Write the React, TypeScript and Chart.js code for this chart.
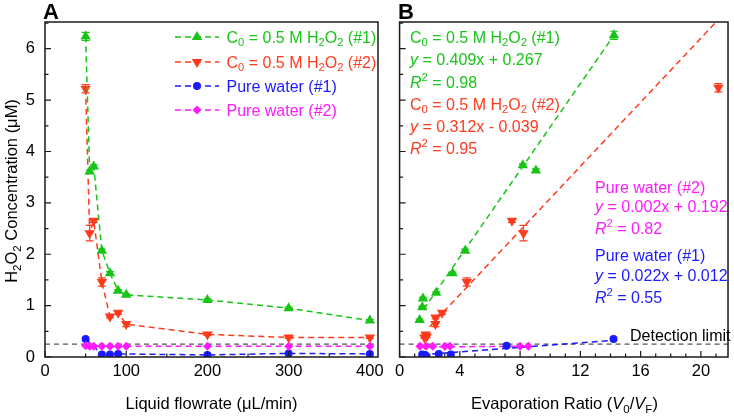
import React, { useEffect, useRef } from 'react';
import { Chart, registerables } from 'chart.js';
Chart.register(...registerables);

const FONT = '"Liberation Sans", Arial, Helvetica, sans-serif';
const GREEN = '#17c417';
const RED = '#ff3b1d';
const BLUE = '#1a1aff';
const MAGENTA = '#ff1aff';
const GRAY = '#555555';

// ---------- Panel A : concentration vs liquid flowrate ----------
const flowA = [50, 55, 60, 70, 80, 90, 100, 200, 300, 400];
const greenA = [6.24, 3.61, 3.71, 2.07, 1.63, 1.29, 1.21, 1.11, 0.95, 0.71];
const greenErrA = [0.08, 0.03, 0.03, 0.03, 0.03, 0.02, 0.02, 0.02, 0.02, 0.02];
const redA = [5.22, 2.41, 2.65, 1.46, 0.79, 0.86, 0.64, 0.44, 0.38, 0.38];
const redErrA = [0.08, 0.15, 0.03, 0.08, 0.03, 0.03, 0.05, 0.02, 0.02, 0.02];
const blueFlowA = [50, 70, 80, 90, 200, 300, 400];
const blueA = [0.35, 0.05, 0.05, 0.06, 0.04, 0.07, 0.06];
const pinkA = [0.22, 0.21, 0.21, 0.21, 0.21, 0.21, 0.21, 0.21, 0.21, 0.21];

// ---------- Panel B : concentration vs evaporation ratio ----------
const greenRatioB = [1.33, 1.51, 1.55, 2.43, 3.52, 4.35, 8.18, 9.05, 14.23];
const greenB = [0.72, 0.97, 1.14, 1.25, 1.63, 2.07, 3.73, 3.63, 6.26];
const greenErrB = [0.02, 0.02, 0.02, 0.02, 0.02, 0.03, 0.03, 0.03, 0.08];
const redRatioB = [1.65, 1.73, 1.8, 2.38, 2.38, 2.82, 4.46, 7.46, 8.22, 21.16];
const redB = [0.38, 0.44, 0.4, 0.77, 0.64, 0.86, 1.46, 2.65, 2.41, 5.24];
const redErrB = [0.02, 0.03, 0.02, 0.03, 0.05, 0.03, 0.08, 0.03, 0.15, 0.08];
const blueRatioB = [1.5, 1.7, 2.6, 3.4, 7.1, 14.2];
const blueB = [0.05, 0.04, 0.06, 0.05, 0.22, 0.35];
const pinkRatioB = [1.35, 1.75, 2.2, 3.0, 3.35, 8.0, 8.55];
const pinkB = [0.21, 0.21, 0.21, 0.21, 0.21, 0.21, 0.21];

// linear fits (end points)
const fitGreenX = [1.6, 14.2];
const fitGreenY = [0.93, 6.25];
const fitRedX = [2.0, 22];
const fitRedY = [0.59, 6.83];
const fitPinkX = [1.3, 8.6];
const fitPinkY = [0.195, 0.209];
const fitBlueX = [1.5, 14.2];
const fitBlueY = [0.045, 0.324];

const detectionLimit = 0.25;

// ticks
const yMajor = [0, 1, 2, 3, 4, 5, 6];
const yMinor = [0.5, 1.5, 2.5, 3.5, 4.5, 5.5, 6.5];
const xMajorA = [0, 100, 200, 300, 400];
const xMinorA = [50, 150, 250, 350];
const xMajorB = [0, 4, 8, 12, 16, 20];
const xMinorB = [1, 2, 3, 5, 6, 7, 9, 10, 11, 13, 14, 15, 17, 18, 19, 21];

// texts
const legendLabels = [
  'C_{0} = 0.5 M H_{2}O_{2} (#1)',
  'C_{0} = 0.5 M H_{2}O_{2} (#2)',
  'Pure water (#1)',
  'Pure water (#2)',
];
const greenNote = ['C_{0} = 0.5 M H_{2}O_{2} (#1)', '*y* = 0.409x + 0.267', '*R*^{2} = 0.98'];
const redNote = ['C_{0} = 0.5 M H_{2}O_{2} (#2)', '*y* = 0.312x - 0.039', '*R*^{2} = 0.95'];
const pinkNote = ['Pure water (#2)', '*y* = 0.002x + 0.192', '*R*^{2} = 0.82'];
const blueNote = ['Pure water (#1)', '*y* = 0.022x + 0.012', '*R*^{2} = 0.55'];
const yTitle = 'H_{2}O_{2} Concentration (μM)';
const xTitleA = 'Liquid flowrate (μL/min)';
const xTitleB = 'Evaporation Ratio (*V*_{0}/*V*_{F})';
const detectionText = 'Detection limit';

type Seg = { t: string; mode: 'n' | 'sub' | 'sup'; it: boolean };
function parseRich(s: string): Seg[] {
  const segs: Seg[] = [];
  let i = 0;
  let it = false;
  let buf = '';
  const flush = () => {
    if (buf) {
      segs.push({ t: buf, mode: 'n', it });
      buf = '';
    }
  };
  while (i < s.length) {
    const c = s[i];
    if ((c === '_' || c === '^') && s[i + 1] === '{') {
      flush();
      const end = s.indexOf('}', i);
      segs.push({ t: s.slice(i + 2, end), mode: c === '_' ? 'sub' : 'sup', it });
      i = end + 1;
      continue;
    }
    if (c === '*') {
      flush();
      it = !it;
      i++;
      continue;
    }
    buf += c;
    i++;
  }
  flush();
  return segs;
}

function drawRich(
  ctx: CanvasRenderingContext2D,
  s: string,
  x: number,
  cy: number,
  size: number,
  color: string,
  align: 'left' | 'center' = 'left',
  bold = false
) {
  const segs = parseRich(s);
  const fontFor = (seg: Seg) =>
    `${seg.it ? 'italic ' : ''}${bold ? 'bold ' : ''}${seg.mode === 'n' ? size : size * 0.7}px ${FONT}`;
  let total = 0;
  for (const seg of segs) {
    ctx.font = fontFor(seg);
    total += ctx.measureText(seg.t).width;
  }
  let cx = align === 'center' ? x - total / 2 : x;
  const base = cy + size * 0.36;
  ctx.fillStyle = color;
  ctx.textBaseline = 'alphabetic';
  ctx.textAlign = 'left';
  for (const seg of segs) {
    ctx.font = fontFor(seg);
    const dy = seg.mode === 'sub' ? size * 0.22 : seg.mode === 'sup' ? -size * 0.4 : 0;
    ctx.fillText(seg.t, cx, base + dy);
    cx += ctx.measureText(seg.t).width;
  }
}

function drawMarker(ctx: CanvasRenderingContext2D, style: string, x: number, y: number, r: number, color: string) {
  ctx.save();
  ctx.fillStyle = color;
  ctx.beginPath();
  if (style === 'up' || style === 'down') {
    const s = style === 'up' ? 1 : -1;
    for (let k = 0; k < 3; k++) {
      const a = (k * 2 * Math.PI) / 3;
      const px = x + Math.sin(a) * r;
      const py = y - s * Math.cos(a) * r;
      if (k === 0) ctx.moveTo(px, py);
      else ctx.lineTo(px, py);
    }
  } else if (style === 'circle') {
    ctx.arc(x, y, r, 0, Math.PI * 2);
  } else {
    ctx.moveTo(x, y - r);
    ctx.lineTo(x + r, y);
    ctx.lineTo(x, y + r);
    ctx.lineTo(x - r, y);
  }
  ctx.closePath();
  ctx.fill();
  ctx.restore();
}

type DecorCfg = {
  xMajor: number[];
  xMinor: number[];
  draw: (ctx: CanvasRenderingContext2D, chart: any) => void;
};

function makeDecor(cfg: DecorCfg) {
  return {
    id: 'decor',
    beforeDatasetsDraw(chart: any) {
      const { ctx, chartArea, scales } = chart;
      const y = scales.y.getPixelForValue(detectionLimit);
      ctx.save();
      ctx.strokeStyle = GRAY;
      ctx.lineWidth = 1.3;
      ctx.setLineDash([5, 4]);
      ctx.beginPath();
      ctx.moveTo(chartArea.left, y);
      ctx.lineTo(chartArea.right, y);
      ctx.stroke();
      ctx.restore();
    },
    afterDatasetsDraw(chart: any) {
      const { ctx, scales } = chart;
      chart.data.datasets.forEach((ds: any, di: number) => {
        if (!ds.errs) return;
        const meta = chart.getDatasetMeta(di);
        ctx.save();
        ctx.strokeStyle = ds.backgroundColor;
        ctx.lineWidth = 1.2;
        ds.data.forEach((p: any, i: number) => {
          const e = ds.errs[i];
          if (!e) return;
          const x = meta.data[i].x;
          const y1 = scales.y.getPixelForValue(p.y - e);
          const y2 = scales.y.getPixelForValue(p.y + e);
          ctx.beginPath();
          ctx.moveTo(x, y1);
          ctx.lineTo(x, y2);
          ctx.moveTo(x - 4, y1);
          ctx.lineTo(x + 4, y1);
          ctx.moveTo(x - 4, y2);
          ctx.lineTo(x + 4, y2);
          ctx.stroke();
        });
        ctx.restore();
      });
    },
    afterDraw(chart: any) {
      const { ctx, chartArea, scales } = chart;
      const { left, right, top, bottom } = chartArea;
      ctx.save();
      ctx.strokeStyle = '#1a1a1a';
      ctx.lineWidth = 1.5;
      ctx.setLineDash([]);
      ctx.strokeRect(left, top, right - left, bottom - top);
      ctx.lineWidth = 1.2;
      ctx.beginPath();
      yMajor.forEach((v) => {
        const y = scales.y.getPixelForValue(v);
        ctx.moveTo(left, y);
        ctx.lineTo(left + 6, y);
      });
      yMinor.forEach((v) => {
        const y = scales.y.getPixelForValue(v);
        if (y < top) return;
        ctx.moveTo(left, y);
        ctx.lineTo(left + 3.5, y);
      });
      cfg.xMajor.forEach((v) => {
        const x = scales.x.getPixelForValue(v);
        ctx.moveTo(x, bottom);
        ctx.lineTo(x, bottom - 6);
      });
      cfg.xMinor.forEach((v) => {
        const x = scales.x.getPixelForValue(v);
        if (x > right) return;
        ctx.moveTo(x, bottom);
        ctx.lineTo(x, bottom - 3.5);
      });
      ctx.stroke();
      ctx.restore();
      ctx.save();
      cfg.draw(ctx, chart);
      ctx.restore();
    },
  };
}

function pts(xs: number[], ys: number[]) {
  return xs.map((x, i) => ({ x, y: ys[i] }));
}

function baseScales(xMin: number, xMax: number, xTicks: number[], yWidth: number, showY: boolean) {
  return {
    x: {
      type: 'linear',
      min: xMin,
      max: xMax,
      grid: { display: false, drawTicks: false },
      border: { display: false },
      ticks: { font: { family: FONT, size: 16.5 }, color: '#000', padding: 5, maxRotation: 0, autoSkip: false },
      afterBuildTicks: (s: any) => {
        s.ticks = xTicks.map((v) => ({ value: v }));
      },
      afterFit: (s: any) => {
        s.height = 59;
      },
    },
    y: {
      type: 'linear',
      min: 0,
      max: 6.52,
      grid: { display: false, drawTicks: false },
      border: { display: false },
      ticks: { display: showY, font: { family: FONT, size: 16.5 }, color: '#000', padding: 10, autoSkip: false },
      afterBuildTicks: (s: any) => {
        s.ticks = yMajor.map((v) => ({ value: v }));
      },
      afterFit: (s: any) => {
        s.width = yWidth;
      },
    },
  };
}

function dashedSeries(label: string, data: any[], color: string, style: string, radius: number, errs?: number[]) {
  return {
    label,
    data,
    borderColor: color,
    backgroundColor: color,
    borderWidth: 1.5,
    borderDash: [6, 4],
    pointStyle: style === 'down' || style === 'up' ? 'triangle' : style === 'circle' ? 'circle' : 'rectRot',
    pointRotation: style === 'down' ? 180 : 0,
    pointRadius: radius,
    pointBorderWidth: 0,
    showLine: true,
    errs,
  };
}

function pointSeries(label: string, data: any[], color: string, style: string, radius: number, errs?: number[]) {
  return { ...dashedSeries(label, data, color, style, radius, errs), showLine: false };
}

function fitSeries(label: string, data: any[], color: string) {
  return {
    label,
    data,
    borderColor: color,
    backgroundColor: color,
    borderWidth: 1.5,
    borderDash: [6, 4],
    pointRadius: 0,
    showLine: true,
  };
}

export default function App() {
  const refA = useRef<HTMLCanvasElement>(null);
  const refB = useRef<HTMLCanvasElement>(null);

  useEffect(() => {
    const legendStyles = ['up', 'down', 'circle', 'diamond'];
    const legendColors = [GREEN, RED, BLUE, MAGENTA];
    const legendRows = [37, 62, 86, 110];

    const chartA = new Chart(refA.current as HTMLCanvasElement, {
      type: 'scatter',
      data: {
        datasets: [
          dashedSeries('C0 #1', pts(flowA, greenA), GREEN, 'up', 6, greenErrA),
          dashedSeries('C0 #2', pts(flowA, redA), RED, 'down', 6, redErrA),
          dashedSeries('Pure water #2', pts(flowA, pinkA), MAGENTA, 'diamond', 4.5),
          dashedSeries('Pure water #1', pts(blueFlowA, blueA), BLUE, 'circle', 4),
        ] as any,
      },
      options: {
        animation: false,
        responsive: false,
        layout: { padding: { top: 22, right: 12, left: 0, bottom: 0 } },
        plugins: { legend: { display: false }, tooltip: { enabled: false } },
        scales: baseScales(0, 410, xMajorA, 45, true) as any,
      },
      plugins: [
        makeDecor({
          xMajor: xMajorA,
          xMinor: xMinorA,
          draw: (ctx) => {
            drawRich(ctx, 'A', 43, 11, 22, '#000', 'left', true);
            ctx.save();
            ctx.translate(11, 191);
            ctx.rotate(-Math.PI / 2);
            drawRich(ctx, yTitle, 0, 0, 16.5, '#000', 'center');
            ctx.restore();
            drawRich(ctx, xTitleA, 211.5, 403, 16.5, '#000', 'center');
            legendRows.forEach((cy, i) => {
              ctx.save();
              ctx.strokeStyle = legendColors[i];
              ctx.lineWidth = 1.5;
              ctx.setLineDash([6, 4]);
              ctx.beginPath();
              ctx.moveTo(175, cy);
              ctx.lineTo(219, cy);
              ctx.stroke();
              ctx.restore();
              drawMarker(ctx, legendStyles[i], 197, cy, legendStyles[i] === 'circle' ? 4 : legendStyles[i] === 'diamond' ? 4.5 : 6, legendColors[i]);
              drawRich(ctx, legendLabels[i], 226.5, cy, 16, legendColors[i]);
            });
          },
        }) as any,
      ],
    });

    const ox = 390;
    const chartB = new Chart(refB.current as HTMLCanvasElement, {
      type: 'scatter',
      data: {
        datasets: [
          pointSeries('C0 #1', pts(greenRatioB, greenB), GREEN, 'up', 6, greenErrB),
          pointSeries('C0 #2', pts(redRatioB, redB), RED, 'down', 6, redErrB),
          pointSeries('Pure water #1', pts(blueRatioB, blueB), BLUE, 'circle', 4),
          pointSeries('Pure water #2', pts(pinkRatioB, pinkB), MAGENTA, 'diamond', 4.5),
          fitSeries('fit #1', pts(fitGreenX, fitGreenY), GREEN),
          fitSeries('fit #2', pts(fitRedX, fitRedY), RED),
          fitSeries('fit pw #2', pts(fitPinkX, fitPinkY), MAGENTA),
          fitSeries('fit pw #1', pts(fitBlueX, fitBlueY), BLUE),
        ] as any,
      },
      options: {
        animation: false,
        responsive: false,
        layout: { padding: { top: 22, right: 3, left: 0, bottom: 0 } },
        plugins: { legend: { display: false }, tooltip: { enabled: false } },
        scales: baseScales(0, 21.8, xMajorB, 8, false) as any,
      },
      plugins: [
        makeDecor({
          xMajor: xMajorB,
          xMinor: xMinorB,
          draw: (ctx) => {
            drawRich(ctx, 'B', 398 - ox, 11, 22, '#000', 'left', true);
            drawRich(ctx, xTitleB, 564.5 - ox, 403, 16.5, '#000', 'center');
            const tx = 410 - ox;
            [37, 59, 82].forEach((cy, i) => drawRich(ctx, greenNote[i], tx, cy, 16, GREEN));
            [104, 126, 148].forEach((cy, i) => drawRich(ctx, redNote[i], tx, cy, 16, RED));
            const px = 595 - ox;
            [187, 206, 228].forEach((cy, i) => drawRich(ctx, pinkNote[i], px, cy, 16, MAGENTA));
            [255, 275, 297].forEach((cy, i) => drawRich(ctx, blueNote[i], px, cy, 16, BLUE));
            drawRich(ctx, detectionText, 630 - ox, 335, 16, '#000');
          },
        }) as any,
      ],
    });

    return () => {
      chartA.destroy();
      chartB.destroy();
    };
  }, []);

  return (
    <div style={{ position: 'absolute', left: 0, top: 0, width: 734, height: 416, background: '#fff' }}>
      <canvas ref={refA} width={390} height={416} style={{ position: 'absolute', left: 0, top: 0, width: 390, height: 416 }} />
      <canvas ref={refB} width={344} height={416} style={{ position: 'absolute', left: 390, top: 0, width: 344, height: 416 }} />
    </div>
  );
}
